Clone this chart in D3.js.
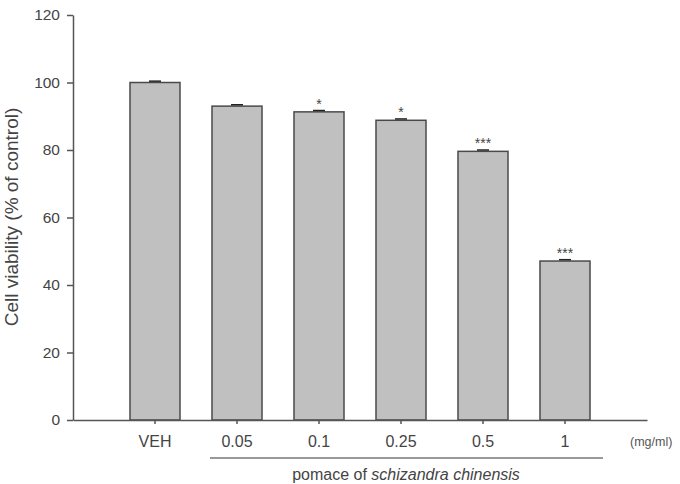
<!DOCTYPE html>
<html><head><meta charset="utf-8">
<script src="https://cdn.jsdelivr.net/npm/d3@7"></script>
<style>body{margin:0;background:#fff}svg{display:block}text{font-family:"Liberation Sans",Arial,sans-serif}</style>
</head><body>
<svg id="c" width="680" height="484"></svg>
<script>
const categories = ["VEH", "0.05", "0.1", "0.25", "0.5", "1"];
const values = [100, 93.0, 91.3, 88.8, 79.6, 47.1];
const errors = [0.4, 0.4, 0.4, 0.4, 0.4, 0.4];
const significance = ["", "", "*", "*", "***", "***"];
const yTicks = [0, 20, 40, 60, 80, 100, 120];

const svg = d3.select("#c");
const x0 = 73, x1 = 647, yTop = 15, yBot = 420;
const x = d3.scaleBand().domain(categories).range([x0, x1]).paddingInner(0.39).paddingOuter(0.695);
const y = d3.scaleLinear().domain([0, 120]).range([yBot, yTop]);
const axisCol = "#555";
const txtCol = "#444";

// bars
svg.selectAll("rect.bar").data(values).join("rect")
  .attr("x", (d,i) => x(categories[i])).attr("width", x.bandwidth())
  .attr("y", d => y(d)).attr("height", d => yBot - y(d))
  .attr("fill", "#c0c0c0").attr("stroke", "#4a4a4a").attr("stroke-width", 1.5);

// error bars
svg.selectAll("line.err").data(values).join("line")
  .attr("x1", (d,i) => x(categories[i]) + x.bandwidth()/2 - 6)
  .attr("x2", (d,i) => x(categories[i]) + x.bandwidth()/2 + 6)
  .attr("y1", (d,i) => y(d + errors[i])).attr("y2", (d,i) => y(d + errors[i]))
  .attr("stroke", "#222").attr("stroke-width", 1.5);

// significance stars
svg.selectAll("text.sig").data(values).join("text")
  .attr("x", (d,i) => x(categories[i]) + x.bandwidth()/2)
  .attr("y", d => y(d) - 3)
  .attr("text-anchor", "middle").attr("font-size", 14).attr("fill", txtCol)
  .text((d,i) => significance[i]);

// y axis
const gy = svg.append("g").attr("transform", `translate(${x0},0)`)
  .call(d3.axisLeft(y).tickValues(yTicks).tickSize(6).tickPadding(7).tickSizeOuter(0));
gy.select(".domain").attr("stroke", axisCol).attr("stroke-width", 1.5);
gy.selectAll(".tick line").attr("stroke", axisCol).attr("stroke-width", 1.5);
gy.selectAll("text").attr("font-size", 15.5).attr("fill", txtCol).attr("font-family", "Liberation Sans, Arial, sans-serif");

// x axis
const gx = svg.append("g").attr("transform", `translate(0,${yBot})`)
  .call(d3.axisBottom(x).tickSize(4).tickPadding(12).tickSizeOuter(0));
gx.select(".domain").attr("stroke", axisCol).attr("stroke-width", 1.5);
gx.selectAll(".tick line").attr("stroke", axisCol).attr("stroke-width", 1.5);
gx.selectAll("text").attr("font-size", 16).attr("fill", txtCol).attr("font-family", "Liberation Sans, Arial, sans-serif");

// unit
svg.append("text").attr("x", 630).attr("y", 446).attr("font-size", 12.5).attr("fill", "#555").text("(mg/ml)");

// group line
svg.append("line").attr("x1", 210).attr("x2", 603).attr("y1", 458).attr("y2", 458)
  .attr("stroke", "#777").attr("stroke-width", 1.5);
const gl = svg.append("text").attr("x", 406).attr("y", 480).attr("text-anchor", "middle")
  .attr("font-size", 16).attr("fill", txtCol);
gl.append("tspan").text("pomace of ");
gl.append("tspan").attr("font-style", "italic").text("schizandra chinensis");

// y label
svg.append("text").attr("transform", "translate(18,217) rotate(-90)")
  .attr("text-anchor", "middle").attr("font-size", 19).attr("fill", txtCol)
  .text("Cell viability (% of control)");
</script>
</body></html>
